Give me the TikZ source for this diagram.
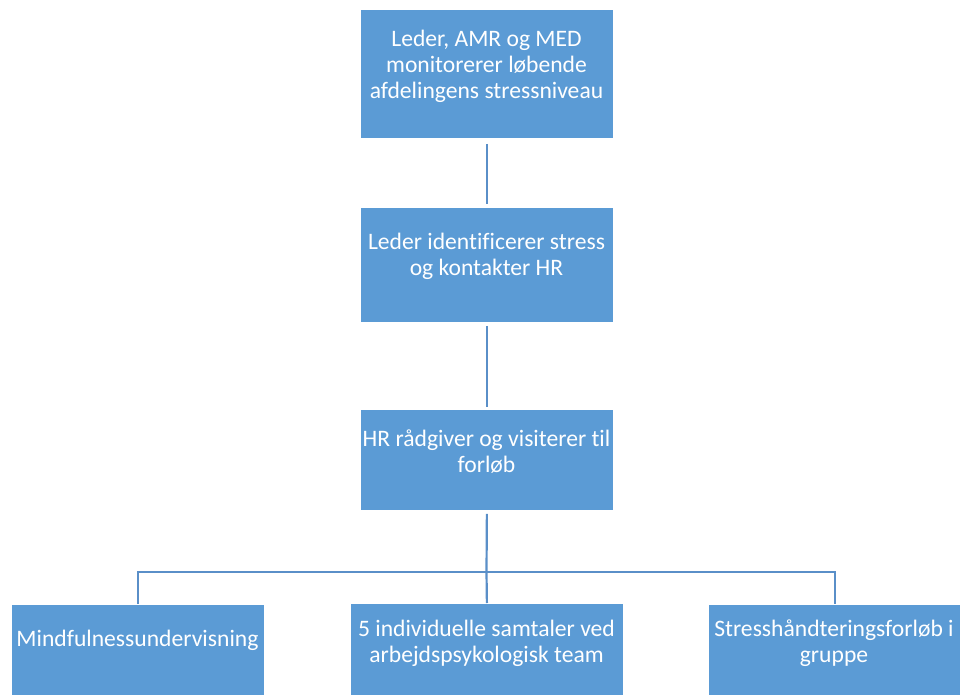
\documentclass[tikz,border=0pt]{standalone}
\usepackage{fontspec}
\setmainfont{Carlito}[Ligatures=NoCommon]
\definecolor{boxblue}{HTML}{5B9BD5}
\definecolor{lineblue}{HTML}{5A8FC8}
\begin{document}
\begin{tikzpicture}[x=1pt,y=-1pt,
 box/.style={draw=white, line width=0.8pt, fill=boxblue, anchor=north west, inner sep=0pt},
 txt/.style={text=white, align=center, font=\fontsize{23.6}{25.8}\selectfont, inner sep=0pt},
 conn/.style={draw=lineblue, line width=2.2pt}]
\useasboundingbox (0,0) rectangle (960,695);
\node[box, minimum width=253pt, minimum height=129pt] (b1) at (360,9) {};
\node[box, minimum width=253pt, minimum height=115pt] (b2) at (360,207) {};
\node[box, minimum width=253pt, minimum height=101pt] (b3) at (360,409) {};
\node[box, minimum width=253pt, minimum height=93pt] (b4) at (11,604) {};
\node[box, minimum width=273pt, minimum height=94pt] (b5) at (350,603) {};
\node[box, minimum width=253pt, minimum height=93pt] (b6) at (708,604) {};
\node[txt] (t1) at (486.5,66.5) {Leder, AMR og MED\\monitorerer løbende\\afdelingens stressniveau};
\node[txt] (t2) at (486.5,256) {Leder identificerer stress\\og kontakter HR};
\node[txt] (t3) at (486.5,451.5) {HR rådgiver og visiterer til\\forløb};
\node[txt] (t4) at (137.5,640) {Mindfulnessundervisning};
\node[txt] (t5) at (486.5,643.5) {5 individuelle samtaler ved\\arbejdspsykologisk team};
\node[txt] (t6) at (834,643) {Stresshåndteringsforløb i\\gruppe};
\coordinate (j) at (486.5,572);
\draw[conn, shorten <=5pt, shorten >=3pt] (b1.south) -- (b2.north);
\draw[conn, shorten <=3pt, shorten >=2pt] (b2.south) -- (b3.north);
\draw[conn, shorten <=3pt] (b3.south) -- (j);
\draw[conn] (b4.north) |- (j) -| (b6.north);
\draw[conn] (j) -- (b5.north);
\end{tikzpicture}
\end{document}
